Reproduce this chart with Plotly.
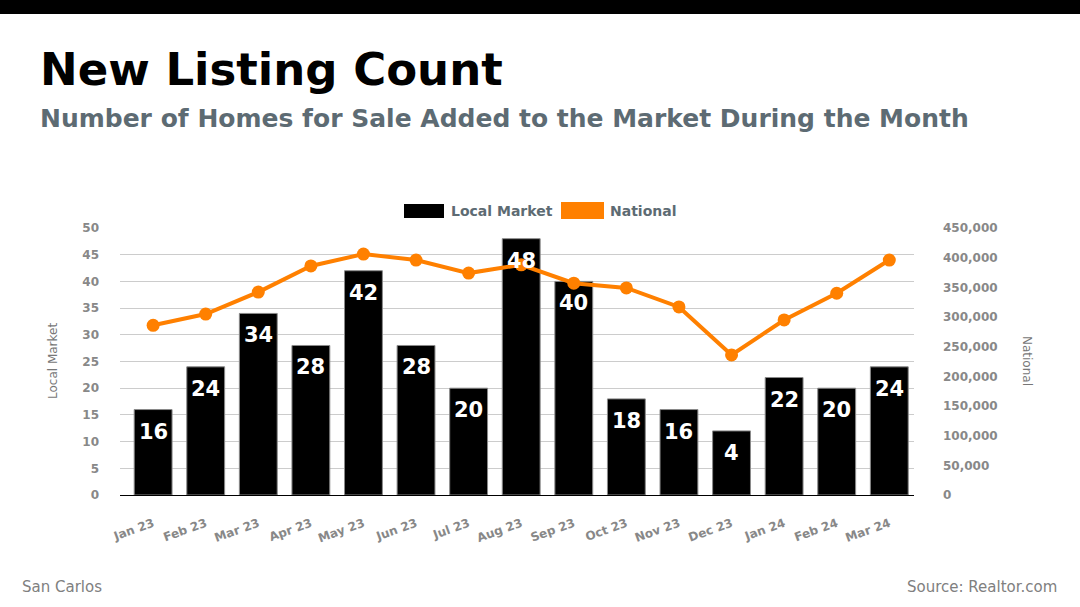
import plotly.graph_objects as go

months = ["Jan 23", "Feb 23", "Mar 23", "Apr 23", "May 23", "Jun 23", "Jul 23", "Aug 23",
          "Sep 23", "Oct 23", "Nov 23", "Dec 23", "Jan 24", "Feb 24", "Mar 24"]
local_market = [16, 24, 34, 28, 42, 28, 20, 48, 40, 18, 16, 12, 22, 20, 24]
local_labels = ["16", "24", "34", "28", "42", "28", "20", "48", "40", "18", "16", "4", "22", "20", "24"]
national = [286000, 305000, 342000, 386000, 406000, 396000, 374000, 388000,
            357000, 349000, 317000, 236000, 295000, 340000, 396000]
left_ticks = [0, 5, 10, 15, 20, 25, 30, 35, 40, 45, 50]
right_ticks = [0, 50000, 100000, 150000, 200000, 250000, 300000, 350000, 400000, 450000]

FIG_W, FIG_H = 1080, 607
L, R, T, B = 120, 914, 228, 495


def px(x):
    return (x - L) / (R - L)


def py(y):
    return (B - y) / (B - T)


FONT = "DejaVu Sans"
TICK_GRAY = "#888888"
SUB_GRAY = "#5d6b73"

fig = go.Figure()
fig.add_trace(go.Bar(
    x=months, y=local_market, name="Local Market",
    marker=dict(color="#000000", line=dict(color="#8a8a8a", width=1)),
    showlegend=False, yaxis="y",
))
fig.add_trace(go.Scatter(
    x=months, y=national, name="National", mode="lines+markers",
    line=dict(color="#FF8000", width=4),
    marker=dict(color="#FF8000", size=13),
    showlegend=False, yaxis="y2",
))

annotations = []
for m, v, lab in zip(months, local_market, local_labels):
    annotations.append(dict(
        x=m, y=v, xref="x", yref="y", text=lab, showarrow=False,
        yanchor="top", yshift=-8,
        font=dict(family=FONT, size=21, color="white", weight="bold"),
    ))

# Titles
annotations.append(dict(
    x=px(38), y=py(69), xref="paper", yref="paper", xanchor="left", yanchor="middle",
    text="<b>New Listing Count</b>", showarrow=False,
    font=dict(family=FONT, size=45, color="#000000"),
))
annotations.append(dict(
    x=px(38), y=py(119), xref="paper", yref="paper", xanchor="left", yanchor="middle",
    text="<b>Number of Homes for Sale Added to the Market During the Month</b>", showarrow=False,
    font=dict(family=FONT, size=25, color=SUB_GRAY),
))
# Legend texts
annotations.append(dict(
    x=px(449), y=py(211), xref="paper", yref="paper", xanchor="left", yanchor="middle",
    text="<b>Local Market</b>", showarrow=False,
    font=dict(family=FONT, size=14, color=SUB_GRAY),
))
annotations.append(dict(
    x=px(608), y=py(211), xref="paper", yref="paper", xanchor="left", yanchor="middle",
    text="<b>National</b>", showarrow=False,
    font=dict(family=FONT, size=14, color=SUB_GRAY),
))
# Axis titles
annotations.append(dict(
    x=px(53), y=py(361), xref="paper", yref="paper", xanchor="center", yanchor="middle",
    text="Local Market", textangle=-90, showarrow=False,
    font=dict(family=FONT, size=12, color="#777777"),
))
annotations.append(dict(
    x=px(1027), y=py(361), xref="paper", yref="paper", xanchor="center", yanchor="middle",
    text="National", textangle=90, showarrow=False,
    font=dict(family=FONT, size=12, color="#777777"),
))
# Footer
annotations.append(dict(
    x=px(20), y=py(587), xref="paper", yref="paper", xanchor="left", yanchor="middle",
    text="San Carlos", showarrow=False,
    font=dict(family=FONT, size=15, color="#808080"),
))
annotations.append(dict(
    x=px(1059), y=py(587), xref="paper", yref="paper", xanchor="right", yanchor="middle",
    text="Source: Realtor.com", showarrow=False,
    font=dict(family=FONT, size=15, color="#808080"),
))

shapes = [
    dict(type="rect", xref="paper", yref="paper", x0=px(-5), x1=px(FIG_W + 5), y0=py(14), y1=py(-5),
         fillcolor="#000000", line=dict(width=0), layer="above"),
    dict(type="rect", xref="paper", yref="paper", x0=px(404), x1=px(444), y0=py(218), y1=py(204),
         fillcolor="#000000", line=dict(width=0)),
    dict(type="rect", xref="paper", yref="paper", x0=px(561), x1=px(604), y0=py(219), y1=py(202),
         fillcolor="#FF8000", line=dict(width=0)),
]

fig.update_layout(
    width=FIG_W, height=FIG_H,
    margin=dict(l=L, r=FIG_W - R, t=T, b=FIG_H - B, pad=0),
    paper_bgcolor="white", plot_bgcolor="white",
    bargap=0.28,
    font=dict(family=FONT),
    xaxis=dict(
        type="category", range=[-0.63, 14.47], tickangle=-20, showgrid=False,
        showline=True, linecolor="#000000", linewidth=1,
        tickfont=dict(family=FONT, size=12, color=TICK_GRAY, weight="bold"),
        ticks="", ticklabelstandoff=16,
    ),
    yaxis=dict(
        range=[0, 50], tickvals=left_ticks, showgrid=True, gridcolor="#cccccc", gridwidth=1,
        zeroline=False, showline=False, ticks="",
        tickfont=dict(family=FONT, size=12, color=TICK_GRAY, weight="bold"),
        ticklabelstandoff=20,
    ),
    yaxis2=dict(
        range=[0, 450000], tickvals=right_ticks, overlaying="y", side="right",
        showgrid=False, zeroline=False, showline=False, ticks="", tickformat=",",
        tickfont=dict(family=FONT, size=12, color=TICK_GRAY, weight="bold"),
        ticklabelstandoff=28,
    ),
    annotations=annotations,
    shapes=shapes,
)

fig.write_html(
    "out.html",
    config={"displayModeBar": False},
    post_script="document.body.style.margin='0';document.body.style.overflow='hidden';",
)
